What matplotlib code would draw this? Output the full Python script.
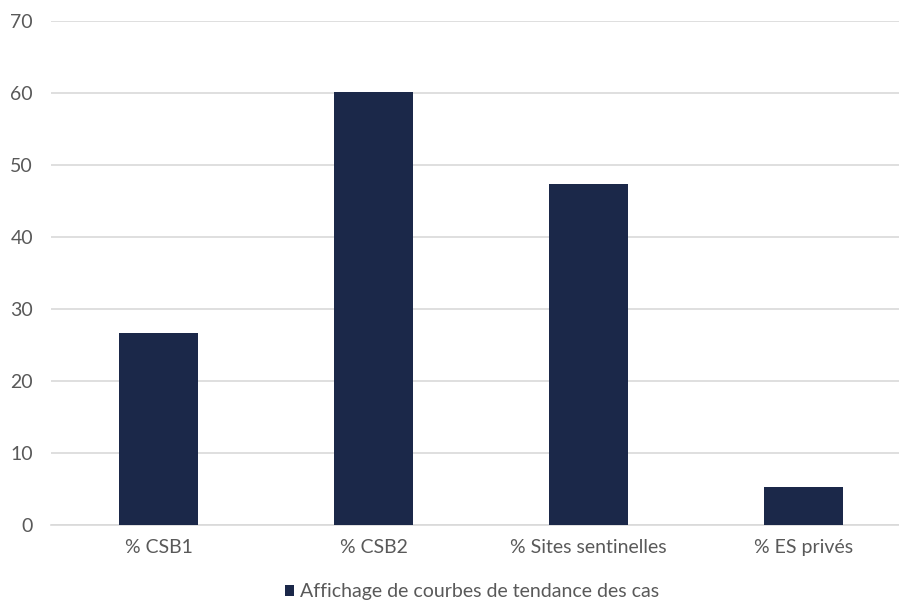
import matplotlib
matplotlib.use("Agg")
import matplotlib.pyplot as plt
import numpy as np

# data
categories = ['% CSB1', '% CSB2', '% Sites sentinelles', '% ES privés']
values = [26.7, 60.2, 47.4, 5.3]
yticks = [0, 10, 20, 30, 40, 50, 60, 70]
series_name = 'Affichage de courbes de tendance des cas'

bar_color = '#1b2849'
text_color = '#595959'
grid_color = '#d9d9d9'

plt.rcParams['font.family'] = ['Lato', 'DejaVu Sans']

fig = plt.figure(figsize=(8.99, 6.04), dpi=100)
# axes spans from gridline start to past the right edge, like the reference
ax = fig.add_axes([51 / 899, 79 / 604, 860 / 899, 504 / 604])

x = np.arange(len(categories))
ax.bar(x, values, width=0.372, color=bar_color, zorder=3, label=series_name)

ax.set_xlim(-0.5, 3.5)
ax.set_ylim(0, 70)
ax.set_yticks(yticks)
ax.set_xticks(x)
ax.set_xticklabels(categories)
ax.grid(axis='y', color=grid_color, linewidth=1.2, zorder=0)
ax.set_axisbelow(True)

for side in ['top', 'right', 'left']:
    ax.spines[side].set_visible(False)
ax.spines['bottom'].set_color(grid_color)
ax.spines['bottom'].set_linewidth(1.2)
ax.tick_params(axis='both', length=0, colors=text_color, labelsize=14)
ax.tick_params(axis='y', pad=13)
ax.tick_params(axis='x', pad=10)

leg = fig.legend(loc='center', bbox_to_anchor=(472 / 899, 1 - 592 / 604),
                 frameon=False, fontsize=14, handlelength=0.45, handleheight=0.45,
                 handletextpad=0.3, borderpad=0)
for t in leg.get_texts():
    t.set_color(text_color)

fig.savefig('out.png', dpi=100)
